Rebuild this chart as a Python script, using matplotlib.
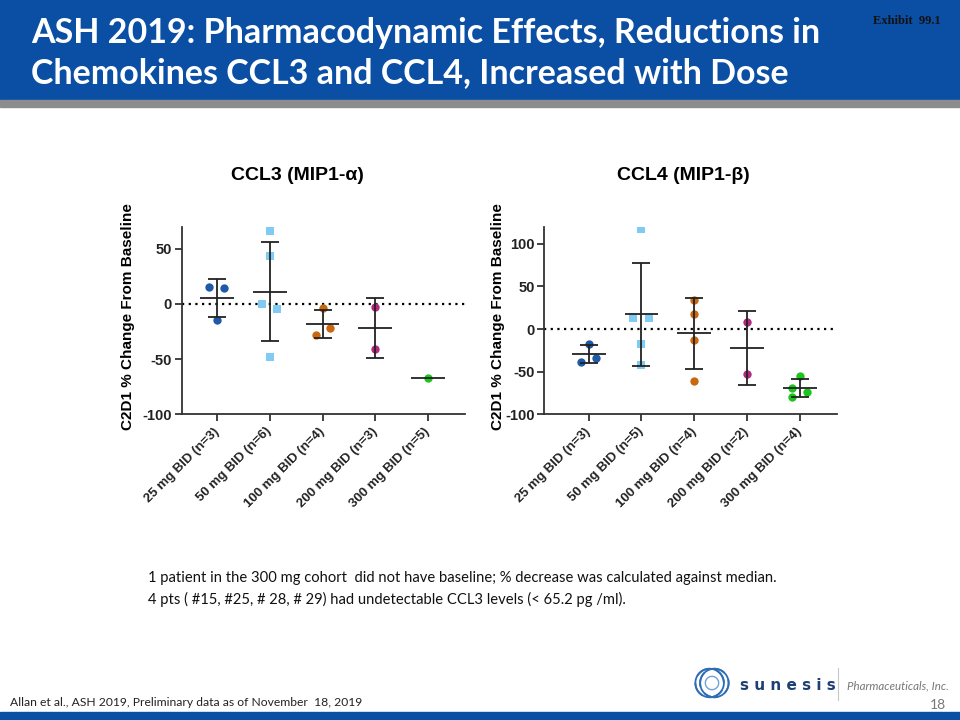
import matplotlib

matplotlib.use("Agg")

import matplotlib.pyplot as plt
from matplotlib.patches import Arc, Rectangle

plt.rcParams["axes.unicode_minus"] = False

# ---- data ----
DOSE_LABELS_CCL3 = ["25 mg BID (n=3)", "50 mg BID (n=6)", "100 mg BID (n=4)",
                    "200 mg BID (n=3)", "300 mg BID (n=5)"]
DOSE_LABELS_CCL4 = ["25 mg BID (n=3)", "50 mg BID (n=5)", "100 mg BID (n=4)",
                    "200 mg BID (n=2)", "300 mg BID (n=4)"]

ccl3_values = [
    [15.8, 14.2, -14.8],
    [66.0, 43.3, 0.0, -4.8, -47.9],
    [-3.6, -27.9, -22.1],
    [-2.7, -41.2],
    [-67.3],
]
ccl3_mean = [5.4, 11.2, -17.9, -21.8, -67.3]
ccl3_upper = [22.4, 56.0, -5.8, 5.2, None]
ccl3_lower = [-12.1, -33.3, -30.6, -48.8, None]

ccl4_values = [
    [-17.2, -38.7, -33.6],
    [117.2, 13.3, 13.3, -17.2, -41.8],
    [34.4, 17.2, -12.9, -60.5],
    [8.6, -52.7],
    [-54.7, -68.8, -74.2, -79.3],
]
ccl4_mean = [-29.7, 17.2, -5.1, -22.3, -69.1]
ccl4_upper = [-19.1, 77.3, 36.3, 20.7, -58.6]
ccl4_lower = [-40.2, -43.4, -46.9, -65.2, -80.1]

# horizontal scatter of overlapping points (layout only)
ccl3_jitter = [[-0.15, 0.14, 0.0], [0.0, 0.0, -0.15, 0.14, 0.0],
               [0.0, -0.13, 0.15], [0.0, 0.0], [0.0]]
ccl4_jitter = [[0.0, -0.14, 0.14], [0.0, -0.15, 0.14, 0.0, 0.0],
               [0.0, 0.0, 0.0, 0.0], [0.0, 0.0], [0.0, -0.14, 0.14, -0.14]]

GROUP_COLORS = ["#1f5aa6", "#7fcbf2", "#c8680f", "#b2287f", "#1ec41e"]
GROUP_MARKERS = ["o", "s", "o", "o", "o"]

BLUE = "#0b4fa5"
TEXT_FONT = "Lato"
AXIS_FONT = "Liberation Sans"


def draw_panel(ax, values, jitter, means, upper, lower, labels, ylim, yticks, xlim):
    for i, (vals, offs) in enumerate(zip(values, jitter)):
        xs = [i + o for o in offs]
        ax.scatter(xs, vals, s=36, marker=GROUP_MARKERS[i], color=GROUP_COLORS[i],
                   linewidths=0, zorder=3)
        ax.hlines(means[i], i - 0.32, i + 0.32, color="#222222", lw=1.3, zorder=4)
        if upper[i] is not None:
            ax.vlines(i, lower[i], upper[i], color="#222222", lw=1.3, zorder=4)
            ax.hlines([lower[i], upper[i]], i - 0.17, i + 0.17, color="#222222",
                      lw=1.3, zorder=4)
    ax.axhline(0, color="black", lw=1.6, ls=(0, (1, 2)), zorder=1)
    ax.set_xlim(*xlim)
    ax.set_ylim(*ylim)
    ax.set_yticks(yticks)
    ax.set_xticks(range(len(labels)))
    ax.set_xticklabels(labels, rotation=45, ha="right", va="center",
                       rotation_mode="anchor", fontsize=9.5, fontweight="bold",
                       family=AXIS_FONT)
    for lab in ax.get_yticklabels():
        lab.set_fontweight("bold")
        lab.set_family(AXIS_FONT)
        lab.set_fontsize(10.5)
    ax.tick_params(axis="x", length=5, width=1.2, pad=6, colors="#222222")
    ax.tick_params(axis="y", length=5, width=1.2, pad=2, colors="#222222")
    for side in ("top", "right"):
        ax.spines[side].set_visible(False)
    for side in ("left", "bottom"):
        ax.spines[side].set_linewidth(1.3)
        ax.spines[side].set_color("#333333")
    ax.set_ylabel("C2D1 % Change From Baseline", fontsize=11, fontweight="bold",
                  family=AXIS_FONT)


fig = plt.figure(figsize=(9.6, 7.2), dpi=100)

# header band
fig.patches.append(Rectangle((0, 1 - 100 / 720), 1, 100 / 720, transform=fig.transFigure,
                             color=BLUE, zorder=0))
fig.patches.append(Rectangle((0, 1 - 107 / 720), 1, 7 / 720, transform=fig.transFigure,
                             color="#8c8c8c", zorder=0))
fig.patches.append(Rectangle((0, 0), 1, 8 / 720, transform=fig.transFigure,
                             color=BLUE, zorder=0))

fig.text(31 / 960, 1 - 33 / 720, "ASH 2019: Pharmacodynamic Effects, Reductions in",
         color="white", fontsize=24.5, fontweight="bold", family=TEXT_FONT, va="center")
fig.text(31 / 960, 1 - 73 / 720, "Chemokines CCL3 and CCL4, Increased with Dose",
         color="white", fontsize=24.5, fontweight="bold", family=TEXT_FONT, va="center")
fig.text(907 / 960, 1 - 21 / 720, "Exhibit  99.1", color="#111111", fontsize=9,
         fontweight="bold", family="Liberation Serif", ha="center", va="center")

ax1 = fig.add_axes([181.7 / 960, 1 - 414.3 / 720, 283.3 / 960, 187.6 / 720])
ax2 = fig.add_axes([544.3 / 960, 1 - 414.3 / 720, 292.4 / 960, 187.6 / 720])

draw_panel(ax1, ccl3_values, ccl3_jitter, ccl3_mean, ccl3_upper, ccl3_lower,
           DOSE_LABELS_CCL3, (-100, 70), [-100, -50, 0, 50], (-0.67, 4.7))
draw_panel(ax2, ccl4_values, ccl4_jitter, ccl4_mean, ccl4_upper, ccl4_lower,
           DOSE_LABELS_CCL4, (-100, 120), [-100, -50, 0, 50, 100], (-0.84, 4.7))
ax1.yaxis.set_label_coords(-0.165, 0.52)
ax2.yaxis.set_label_coords(-0.134, 0.52)

fig.text(297 / 960, 1 - 175 / 720, "CCL3 (MIP1-α)", fontsize=14, fontweight="bold",
         family=AXIS_FONT, ha="center", va="center")
fig.text(683 / 960, 1 - 175 / 720, "CCL4 (MIP1-β)", fontsize=14, fontweight="bold",
         family=AXIS_FONT, ha="center", va="center")

# footnotes
fig.text(148 / 960, 1 - 578 / 720,
         "1 patient in the 300 mg cohort  did not have baseline; % decrease was "
         "calculated against median.",
         fontsize=10.6, family=TEXT_FONT, va="center", color="#111111")
fig.text(148 / 960, 1 - 599 / 720,
         "4 pts ( #15, #25, # 28, # 29) had undetectable CCL3 levels (< 65.2 pg /ml).",
         fontsize=10.6, family=TEXT_FONT, va="center", color="#111111")
fig.text(10 / 960, 1 - 703 / 720,
         "Allan et al., ASH 2019, Preliminary data as of November  18, 2019",
         fontsize=8.7, family=TEXT_FONT, va="center", color="#222222")

# logo
logo = fig.add_axes([693 / 960, 1 - 702 / 720, 38 / 960, 38 / 720])
logo.set_xlim(-1, 1)
logo.set_ylim(-1, 1)
logo.set_aspect("equal")
logo.axis("off")
for k in range(8):
    logo.add_patch(Arc((0.25 * (k % 2 - 0.5), 0), 1.5, 1.5, angle=k * 45,
                       theta1=0, theta2=150, color="#2d6db5", lw=1.3))
logo.add_patch(Arc((0, 0), 0.7, 0.7, theta1=0, theta2=360, color="#6fa3d8", lw=1.0))

fig.text(740 / 960, 1 - 686 / 720, "s u n e s i s", fontsize=11, fontweight="heavy",
         family="DejaVu Sans", color="#1d3f73", va="center")
fig.add_artist(plt.Line2D([838 / 960, 838 / 960], [1 - 668 / 720, 1 - 700 / 720],
                          color="#c8c8c8", lw=0.8, transform=fig.transFigure))
fig.text(847 / 960, 1 - 686 / 720, "Pharmaceuticals, Inc.", fontsize=8.3,
         style="italic", family=TEXT_FONT, color="#777777", va="center")
fig.text(946 / 960, 1 - 705 / 720, "18", fontsize=10, family=TEXT_FONT,
         color="#777777", va="center", ha="right")

fig.savefig("out.png", dpi=100)
